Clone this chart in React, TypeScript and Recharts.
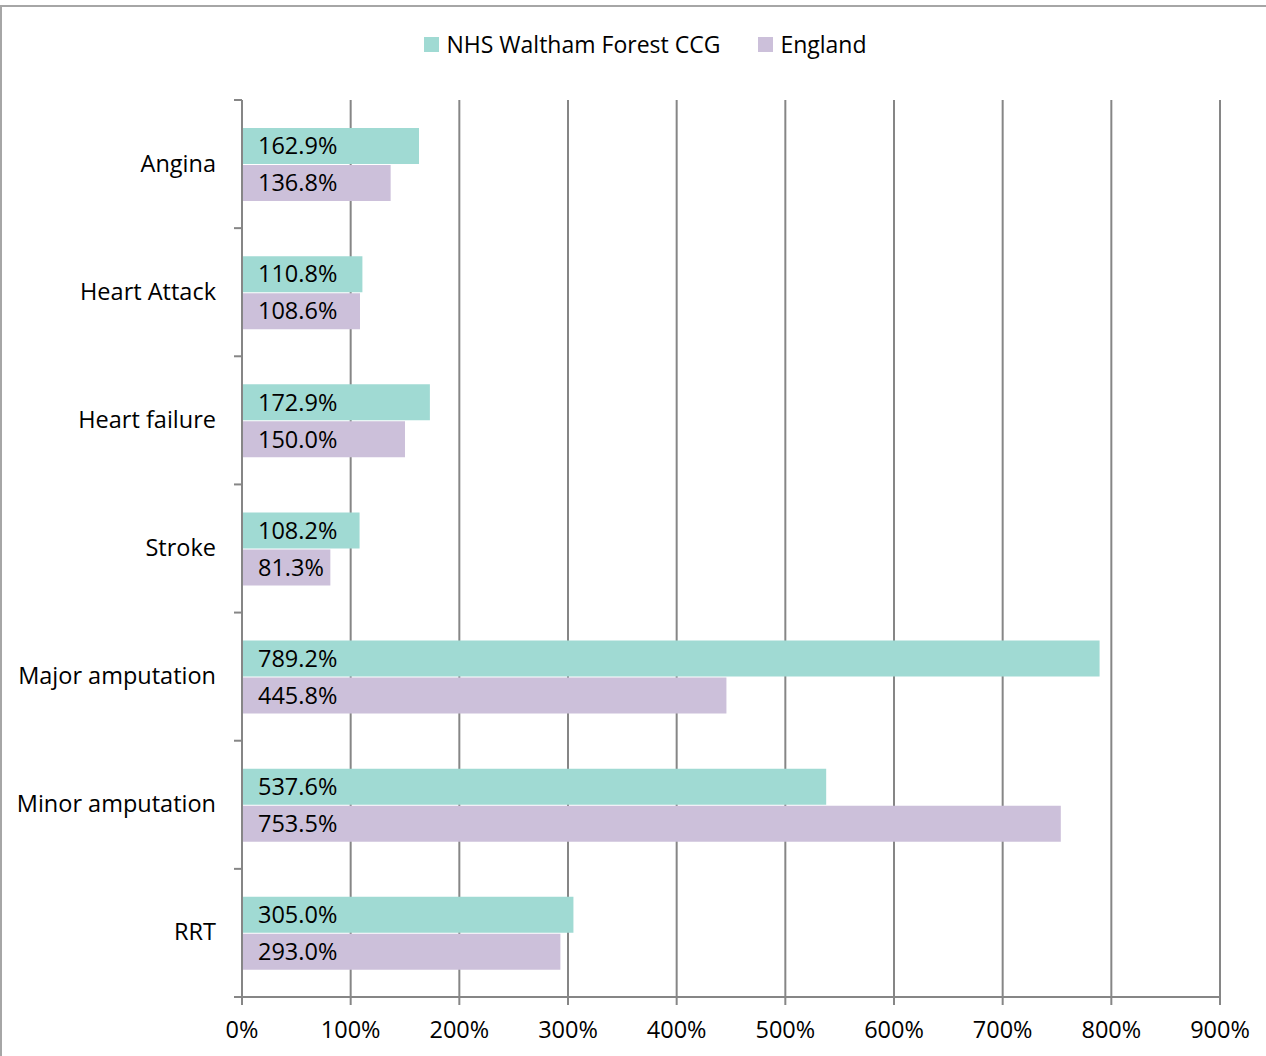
import React from 'react';
import { BarChart, Bar, XAxis, YAxis, CartesianGrid, Legend, LabelList } from 'recharts';

const categories = ['Angina', 'Heart Attack', 'Heart failure', 'Stroke', 'Major amputation', 'Minor amputation', 'RRT'];
const walthamForest = [162.9, 110.8, 172.9, 108.2, 789.2, 537.6, 305.0];
const england = [136.8, 108.6, 150.0, 81.3, 445.8, 753.5, 293.0];
const xTicks = [0, 100, 200, 300, 400, 500, 600, 700, 800, 900];
const seriesNames = ['NHS Waltham Forest CCG', 'England'];

const TEAL = '#A0DAD3';
const PURPLE = '#CCC0DA';
const LINE = '#868686';
const FONT = '"Open Sans", sans-serif';
const FS = 23.5;
const TICK_SIZE = 8;
const TICK_MARGIN = 18;

const data = categories.map((c, i) => ({ name: c, wf: walthamForest[i], eng: england[i] }));

const fmt = (v: number) => `${v.toFixed(1)}%`;

const LegendContent = () => (
  <div style={{ display: 'flex', justifyContent: 'center', alignItems: 'center', fontFamily: FONT, fontSize: 23, color: '#000', paddingLeft: 25 }}>
    <span style={{ display: 'inline-block', width: 15, height: 15, background: TEAL, marginRight: 7 }} />
    <span style={{ marginRight: 38 }}>{seriesNames[0]}</span>
    <span style={{ display: 'inline-block', width: 15, height: 15, background: PURPLE, marginRight: 7 }} />
    <span>{seriesNames[1]}</span>
  </div>
);

// Category tick: label centred on band, plus short tick marks at band boundaries
const CategoryTick = (props: any) => {
  const { x, y, payload, index, visibleTicksCount, height } = props;
  const band = height / visibleTicksCount;
  const axisX = x + TICK_SIZE + TICK_MARGIN;
  return (
    <g>
      <line x1={axisX - TICK_SIZE} x2={axisX} y1={y - band / 2} y2={y - band / 2} stroke={LINE} strokeWidth={2} />
      {index === visibleTicksCount - 1 && (
        <line x1={axisX - TICK_SIZE} x2={axisX} y1={y + band / 2} y2={y + band / 2} stroke={LINE} strokeWidth={2} />
      )}
      <text x={x} y={y - 1.5} textAnchor="end" dominantBaseline="central" fill="#000" fontSize={FS} fontFamily={FONT}>
        {payload.value}
      </text>
    </g>
  );
};

export default function App() {
  return (
    <div style={{ position: 'absolute', left: 0, top: 0, width: 1266, height: 1056, overflow: 'hidden', background: '#fff' }}>
      <div style={{ position: 'absolute', left: 0, top: 5, width: 1300, height: 1100, border: '2px solid #A6A6A6', boxSizing: 'border-box' }} />
      <div style={{ position: 'absolute', left: 0, top: 0 }}>
        <BarChart
          width={1266}
          height={1056}
          data={data}
          layout="vertical"
          margin={{ top: 100, right: 46, bottom: 0, left: 0 }}
          barGap={1}
          barSize={36}
        >
          <CartesianGrid horizontal={false} vertical stroke={LINE} strokeWidth={2} />
          <XAxis
            type="number"
            domain={[0, 900]}
            ticks={xTicks}
            tickFormatter={(v: number) => `${v}%`}
            height={59}
            stroke={LINE}
            strokeWidth={2}
            tickSize={8}
            tickMargin={16}
            tick={{ fill: '#000', fontSize: FS, fontFamily: FONT }}
            interval={0}
          />
          <YAxis
            type="category"
            dataKey="name"
            width={242}
            stroke={LINE}
            strokeWidth={2}
            tickLine={false}
            tickSize={TICK_SIZE}
            tickMargin={TICK_MARGIN}
            tick={<CategoryTick />}
            interval={0}
          />
          <Legend
            verticalAlign="middle"
            align="center"
            layout="horizontal"
            wrapperStyle={{ top: 28, left: 0, width: 1266 }}
            content={<LegendContent />}
          />
          <Bar dataKey="wf" name={seriesNames[0]} fill={TEAL} isAnimationActive={false}>
            <LabelList dataKey="wf" position="insideLeft" offset={16} formatter={fmt} style={{ fill: '#000', fontSize: FS, fontFamily: FONT }} />
          </Bar>
          <Bar dataKey="eng" name={seriesNames[1]} fill={PURPLE} isAnimationActive={false}>
            <LabelList dataKey="eng" position="insideLeft" offset={16} formatter={fmt} style={{ fill: '#000', fontSize: FS, fontFamily: FONT }} />
          </Bar>
        </BarChart>
      </div>
    </div>
  );
}
